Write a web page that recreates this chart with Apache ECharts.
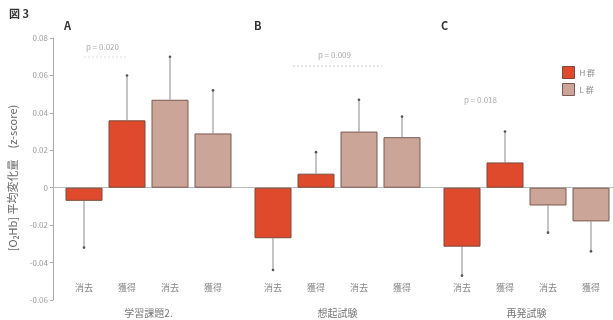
<!DOCTYPE html>
<html>
<head>
<meta charset="utf-8">
<script src="https://cdn.jsdelivr.net/npm/echarts@6/dist/echarts.min.js"></script>
<style>
  html, body { margin: 0; padding: 0; background: #fff; }
  #chart { width: 613px; height: 320px; }
</style>
</head>
<body>
<div id="chart"></div>
<script>
// data
const conditions = ["消去", "獲得", "消去", "獲得"];
const groupNames = ["H 群", "L 群"];
const panels = ["学習課題2.", "想起試験", "再発試験"];
const panelLetters = ["A", "B", "C"];
const pValues = ["p = 0.020", "p = 0.009", "p = 0.018"];

// means per panel, order: H消去, H獲得, L消去, L獲得
const meanA = [-0.007, 0.036, 0.047, 0.029];
const meanB = [-0.027, 0.0075, 0.030, 0.027];
const meanC = [-0.0315, 0.0135, -0.0095, -0.018];
// one-sided error bar length (SD)
const errA = [0.025, 0.024, 0.023, 0.023];
const errB = [0.017, 0.0115, 0.017, 0.011];
const errC = [0.0155, 0.0165, 0.0145, 0.016];

const yTicks = { min: -0.06, max: 0.08, interval: 0.02 };

const means = [meanA, meanB, meanC];
const errs = [errA, errB, errC];
const colorH = "#DE4A2B";
const colorL = "#CCA599";
const font = "'Noto Sans CJK JP', 'Noto Sans', sans-serif";

const chart = echarts.init(document.getElementById("chart"));

const grids = [{ left: 53, right: 0, top: 38, bottom: 20, outerBoundsMode: "none" }];
const xAxes = [{
  gridIndex: 0, type: "value", min: 0, max: 1,
  axisLine: { show: true, onZero: true, lineStyle: { color: "#b8b8b8", width: 1 } },
  axisTick: { show: false }, axisLabel: { show: false }, splitLine: { show: false }
}];
const yAxes = [{
  gridIndex: 0, type: "value", min: yTicks.min, max: yTicks.max, interval: yTicks.interval,
  name: "[O\u2082Hb] 平均変化量　(z-score)",
  nameLocation: "middle", nameGap: 31,
  nameTextStyle: { color: "#666", fontSize: 11, fontFamily: font, padding: [0, 18, 0, 0] },
  axisLine: { show: true, lineStyle: { color: "#aaa" } },
  axisTick: { show: true, length: 3, lineStyle: { color: "#aaa" } },
  axisLabel: {
    color: "#999", fontSize: 8, fontFamily: font, margin: 5,
    formatter: v => (Math.abs(v) < 1e-9 ? "0" : v.toFixed(2))
  },
  splitLine: { show: false }
}];
const series = [];

const gridLefts = [62.5, 251.5, 440.5];
panels.forEach((name, p) => {
  const gi = p + 1;
  grids.push({ left: gridLefts[p], width: 172, top: 38, bottom: 20, outerBoundsMode: "none" });
  xAxes.push({
    gridIndex: gi, type: "category", data: conditions,
    name: name, nameLocation: "middle", nameGap: 8,
    nameTextStyle: { color: "#777", fontSize: 10, fontFamily: font, verticalAlign: "top" },
    axisLine: { show: false, onZero: false }, axisTick: { show: false },
    axisLabel: { color: "#888", fontSize: 9, fontFamily: font, margin: -17 }
  });
  yAxes.push({
    gridIndex: gi, type: "value", min: yTicks.min, max: yTicks.max, interval: yTicks.interval,
    show: false, splitLine: { show: false }
  });
  const m = means[p];
  series.push({
    name: groupNames[0], type: "bar", xAxisIndex: gi, yAxisIndex: gi,
    data: [m[0], m[1], null, null], barWidth: 37, barGap: "-100%",
    itemStyle: { color: colorH, borderColor: "#7a4a3c", borderWidth: 1 }
  });
  series.push({
    name: groupNames[1], type: "bar", xAxisIndex: gi, yAxisIndex: gi,
    data: [null, null, m[2], m[3]], barWidth: 37,
    itemStyle: { color: colorL, borderColor: "#7a5a52", borderWidth: 1 }
  });
  series.push({
    type: "custom", xAxisIndex: gi, yAxisIndex: gi, silent: true, z: 1,
    data: m.map((v, i) => [i, v, v < 0 ? v - errs[p][i] : v + errs[p][i]]),
    renderItem: (params, api) => {
      const a = api.coord([api.value(0), api.value(1)]);
      const b = api.coord([api.value(0), api.value(2)]);
      return {
        type: "group",
        children: [
          { type: "line", shape: { x1: a[0], y1: a[1], x2: b[0], y2: b[1] },
            style: { stroke: "#8a8a8a", lineWidth: 1 } },
          { type: "circle", shape: { cx: b[0], cy: b[1], r: 1.3 }, style: { fill: "#555" } }
        ]
      };
    }
  });
});

const letterX = [64, 254, 441];
const pPos = [[86, 43], [318, 51], [464, 96]];
const graphics = [
  { type: "text", left: 9, top: 8, style: { text: "図 3", fontSize: 11, fontWeight: "bold", fill: "#333", fontFamily: font } }
];
panelLetters.forEach((t, i) => {
  graphics.push({ type: "text", left: letterX[i], top: 20, style: { text: t, fontSize: 11, fontWeight: "bold", fill: "#333", fontFamily: font } });
  graphics.push({ type: "text", left: pPos[i][0], top: pPos[i][1], style: { text: pValues[i], fontSize: 8, fill: "#aaa", fontFamily: font } });
});
graphics.push({ type: "line", shape: { x1: 84, y1: 57, x2: 126, y2: 57 }, style: { stroke: "#ddd", lineWidth: 1, lineDash: [2, 2] } });
graphics.push({ type: "line", shape: { x1: 293, y1: 66, x2: 382, y2: 66 }, style: { stroke: "#ccc", lineWidth: 1, lineDash: [2, 2] } });

chart.setOption({
  backgroundColor: "#fff",
  animation: false,
  textStyle: { fontFamily: font },
  grid: grids,
  xAxis: xAxes,
  yAxis: yAxes,
  legend: {
    data: groupNames, orient: "vertical", left: 557, top: 61,
    icon: "rect", itemWidth: 12, itemHeight: 12, itemGap: 4,
    textStyle: { color: "#888", fontSize: 8, fontFamily: font },
    itemStyle: { borderWidth: 1 }
  },
  graphic: graphics,
  series: series
});
</script>
</body>
</html>
